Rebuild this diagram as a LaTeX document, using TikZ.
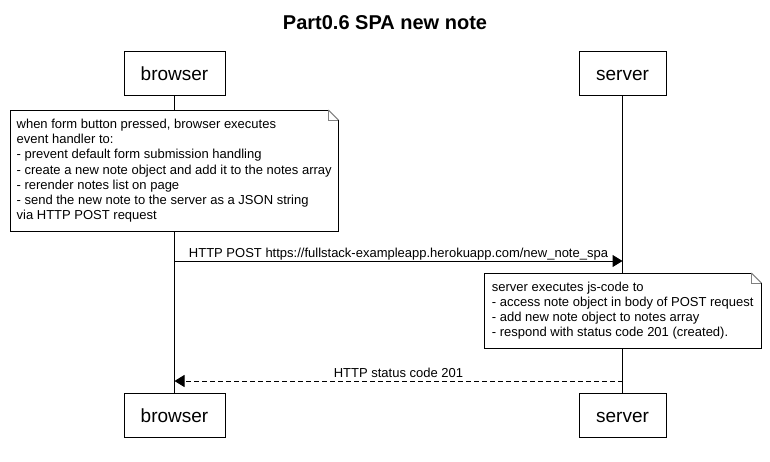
\documentclass[tikz,border=0pt]{standalone}
\usepackage{fontspec}
\setmainfont{Liberation Sans}
\usetikzlibrary{arrows.meta}
\begin{document}
\begin{tikzpicture}[x=1pt,y=-1pt,
  actor/.style={draw, line width=1pt, fill=white, minimum height=44pt, inner sep=0pt,
    font=\fontsize{19}{22}\selectfont, text height=14pt, text depth=0pt},
  notebox/.style={fill=white, inner xsep=0pt, inner ysep=0pt, align=left,
    font=\fontsize{13}{15.1}\selectfont, anchor=north west},
  noteline/.style={line width=1pt},
  fold/.style={draw=gray, line width=1pt},
  life/.style={line width=1pt},
  msg/.style={line width=1pt, -{Triangle[length=10pt,width=12pt]}},
  reply/.style={msg, dash pattern=on 5pt off 3pt},
  lbl/.style={font=\fontsize{13}{15}\selectfont, anchor=base, yshift=4pt}
]
\useasboundingbox[fill=white] (0,0) rectangle (770,461);

\node[font=\bfseries\fontsize{20}{24}\selectfont, anchor=base] (title) at (385,29) {Part0.6 SPA new note};

\node[actor, minimum width=101pt] (bt) at (174.5,73.5) {browser};
\node[actor, minimum width=87pt] (st) at (622.5,73.5) {server};
\node[actor, minimum width=101pt] (bb) at (174.5,415) {browser};
\node[actor, minimum width=87pt] (sb) at (622.5,415) {server};
\draw[life] (bt) -- (bb);
\draw[life] (st) -- (sb);

% note 1
\node[notebox, minimum width=328pt, minimum height=121pt] (n1) at (10,110) {when form button pressed, browser executes\\
event handler to:\\
- prevent default form submission handling\\
- create a new note object and add it to the notes array\\
- rerender notes list on page\\
- send the new note to the server as a JSON string\\
via HTTP POST request};
\draw[noteline] ([xshift=-10pt]n1.north east) -- (n1.north west) -- (n1.south west) -- (n1.south east) -- ([yshift=-10pt]n1.north east);
\draw[fold] ([xshift=-10pt]n1.north east) -- ([yshift=-10pt]n1.north east);
\draw[fold] ([xshift=-10pt]n1.north east) -- ([xshift=-10pt,yshift=-10pt]n1.north east) -- ([yshift=-10pt]n1.north east);

% message 1
\coordinate (m1) at (0,261);
\draw[msg] (bt |- m1) -- (st |- m1) node[lbl, pos=0.5] {HTTP POST https://fullstack-exampleapp.herokuapp.com/new\_note\_spa};

% note 2
\node[notebox, minimum width=277pt, minimum height=75pt] (n2) at (484,273) {server executes js-code to\\
- access note object in body of POST request\\
- add new note object to notes array\\
- respond with status code 201 (created).};
\draw[noteline] ([xshift=-10pt]n2.north east) -- (n2.north west) -- (n2.south west) -- (n2.south east) -- ([yshift=-10pt]n2.north east);
\draw[fold] ([xshift=-10pt]n2.north east) -- ([yshift=-10pt]n2.north east);
\draw[fold] ([xshift=-10pt]n2.north east) -- ([xshift=-10pt,yshift=-10pt]n2.north east) -- ([yshift=-10pt]n2.north east);

% message 2
\coordinate (m2) at (0,381);
\draw[reply] (st |- m2) -- (bt |- m2) node[lbl, pos=0.5] {HTTP status code 201};
\end{tikzpicture}
\end{document}
